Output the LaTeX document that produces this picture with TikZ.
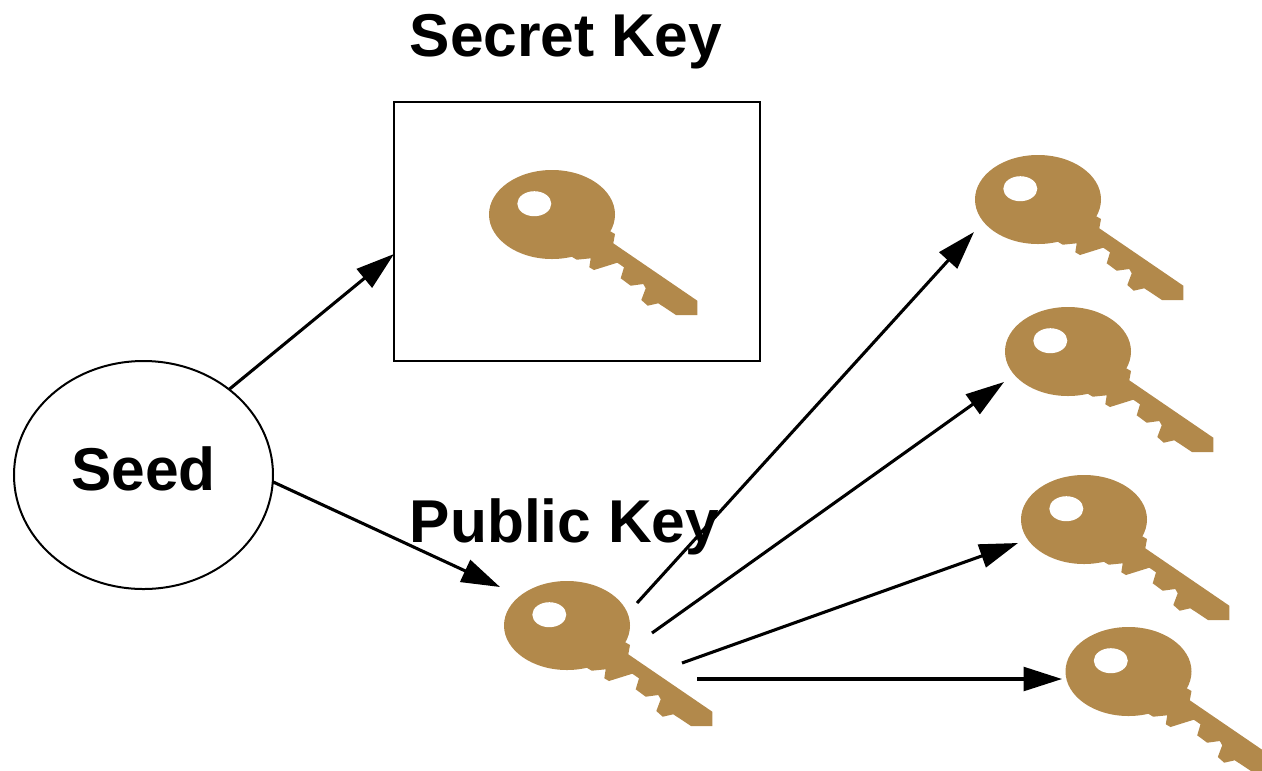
\documentclass[tikz,border=0pt]{standalone}
\usepackage{fontspec}
\setmainfont{Liberation Sans}
\usetikzlibrary{arrows.meta,shapes.geometric}
\definecolor{KeyBrown}{rgb}{0.698, 0.537, 0.294}

\tikzset{
	thinline/.style={line width=1.3pt},
	keyarrow/.style={line width=2pt, -{Triangle[length=25pt,width=15.5pt]}},
	bigtext/.style={font=\fontsize{39.3}{39.3}\selectfont\bfseries, inner sep=0pt},
	brasskey/.pic={
		% Head of the key
		\fill[KeyBrown] (0,0) ellipse (63 and 44.5);
		% Shaft with its teeth
		\fill[KeyBrown] (10,20) -- (57.3,16.2) -- (63,19.5) -- (61.3,28.8) -- (145.3,86.2) -- (145.3,100.5)
		-- (124,100.5) -- (106.3,88.8) -- (95.7,91.2) -- (89.3,85.5) -- (93.7,73.8) -- (91.3,69.5)
		-- (78.7,71.2) -- (68.7,63.8) -- (72,52.8) -- (65.3,48.2) -- (42,55.5) -- (37.3,52.8)
		-- (38.7,43.8) -- (24.7,45.2) -- (19.7,42.2) -- cycle;
		% Hole
		\fill[white] (-17.7,-10.8) ellipse (17 and 12.5);
	}
}

\begin{document}
\begin{tikzpicture}[x=0.65pt,y=0.65pt,yscale=-1,xscale=1]
		\useasboundingbox (0,0) rectangle (1262,770);

		% The seed and the box of the secret key
		\node[ellipse, draw, thinline, minimum width=168.35pt, minimum height=148.2pt, inner sep=0pt, outer sep=0pt] (seed) at (143.5,475) {};
		\node[bigtext] (seedtext) at (143.5,469) {Seed};
		\node[rectangle, draw, thinline, minimum width=237.9pt, minimum height=168.35pt, inner sep=0pt, outer sep=0pt] (secretbox) at (577,231.5) {};

		% The keys
		\pic[yscale=-1] (secretkey) at (552,214.5) {brasskey};
		\pic[yscale=-1] (publickey) at (567,625.5) {brasskey};
		\pic[yscale=-1] (keyone) at (1038,199.5) {brasskey};
		\pic[yscale=-1] (keytwo) at (1068,351.5) {brasskey};
		\pic[yscale=-1] (keythree) at (1084,519.5) {brasskey};
		\pic[yscale=-1] (keyfour) at (1128.5,671.5) {brasskey};

		% Ends of the arrows
		\coordinate (boxin) at (394,254);
		\coordinate (pubin) at (500,587);
		\coordinate (outone) at (637,603);
		\coordinate (outtwo) at (652,633);
		\coordinate (outthree) at (682,663);
		\coordinate (outfour) at (697,679);
		\coordinate (inone) at (974,232);
		\coordinate (intwo) at (1004,382);
		\coordinate (inthree) at (1018,543);
		\coordinate (infour) at (1062,679);

		% The arrows
		\draw[keyarrow] (seed.45.8) -- (boxin);
		\draw[keyarrow] (seed.-3.5) -- (pubin);
		\draw[keyarrow] (outone) -- (inone);
		\draw[keyarrow] (outtwo) -- (intwo);
		\draw[keyarrow] (outthree) -- (inthree);
		\draw[keyarrow] (outfour) -- (infour);

		% The titles
		\node[bigtext] (secrettitle) at (566,42) {Secret Key};
		\node[bigtext] (publictitle) at (564.5,527) {Public Key};
	\end{tikzpicture}
\end{document}
